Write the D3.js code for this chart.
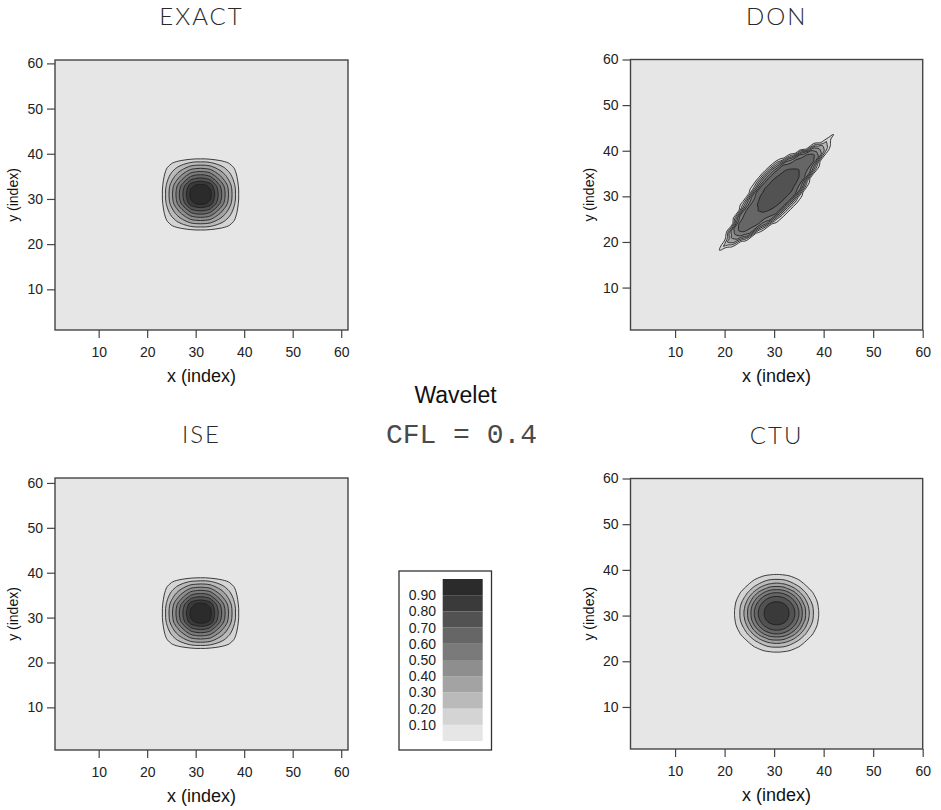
<!DOCTYPE html>
<html>
<head>
<meta charset="utf-8">
<script src="https://cdn.jsdelivr.net/npm/d3@7"></script>
<style>
    body { margin: 0; background: #fff; }
    svg { display: block; font-family: Arial, "Liberation Sans", Helvetica, sans-serif; }
    .c-title { font-family: Lato, "Open Sans", sans-serif; font-weight: 300; font-size: 24px; letter-spacing: 2px; fill: #2a2a2a; }
    .c-axis-label { font-size: 18px; fill: #111; }
    .c-axis text { font-size: 14px; fill: #222; font-family: Arial, "Liberation Sans", sans-serif; }
    .c-axis line { stroke: #444; stroke-width: 1.2; }
    .c-legend-label { font-size: 14px; fill: #222; }
</style>
</head>
<body>
<svg id="c-chart" width="941" height="810"></svg>
<script>
// contour levels and legend labels
var levels = [0.1, 0.2, 0.3, 0.4, 0.5, 0.6, 0.7, 0.8, 0.9];
var legendLabels = ["0.10", "0.20", "0.30", "0.40", "0.50", "0.60", "0.70", "0.80", "0.90"];
var axisTicks = [10, 20, 30, 40, 50, 60];
var panelNames = ["EXACT", "DON", "ISE", "CTU"];

// EXACT: rows from y = 21 (bottom) to y = 41, columns x = 21 .. 41
var exactValues = [
    [0,0,0,0,0,0,0,0,0,0,0,0,0,0,0,0,0,0,0,0,0],
    [0,0,0,0,0.01,0.01,0.01,0.02,0.02,0.02,0.02,0.02,0.02,0.02,0.01,0.01,0.01,0,0,0,0],
    [0,0,0.01,0.02,0.03,0.04,0.05,0.06,0.07,0.08,0.08,0.08,0.07,0.06,0.05,0.04,0.03,0.02,0.01,0,0],
    [0,0,0.02,0.05,0.09,0.12,0.15,0.18,0.21,0.23,0.23,0.23,0.21,0.18,0.15,0.12,0.09,0.05,0.02,0,0],
    [0,0.01,0.03,0.09,0.14,0.19,0.24,0.29,0.34,0.36,0.37,0.36,0.34,0.29,0.24,0.19,0.14,0.09,0.03,0.01,0],
    [0,0.01,0.04,0.12,0.19,0.26,0.33,0.40,0.47,0.50,0.51,0.50,0.47,0.40,0.33,0.26,0.19,0.12,0.04,0.01,0],
    [0,0.01,0.05,0.15,0.24,0.33,0.42,0.51,0.60,0.64,0.65,0.64,0.60,0.51,0.42,0.33,0.24,0.15,0.05,0.01,0],
    [0,0.02,0.06,0.18,0.29,0.40,0.51,0.62,0.73,0.77,0.79,0.77,0.73,0.62,0.51,0.40,0.29,0.18,0.06,0.02,0],
    [0,0.02,0.07,0.21,0.34,0.47,0.60,0.73,0.86,0.91,0.93,0.91,0.86,0.73,0.60,0.47,0.34,0.21,0.07,0.02,0],
    [0,0.02,0.08,0.23,0.36,0.50,0.64,0.77,0.91,0.96,0.98,0.96,0.91,0.77,0.64,0.50,0.36,0.23,0.08,0.02,0],
    [0,0.02,0.08,0.23,0.37,0.51,0.65,0.79,0.93,0.98,1.00,0.98,0.93,0.79,0.65,0.51,0.37,0.23,0.08,0.02,0],
    [0,0.02,0.08,0.23,0.36,0.50,0.64,0.77,0.91,0.96,0.98,0.96,0.91,0.77,0.64,0.50,0.36,0.23,0.08,0.02,0],
    [0,0.02,0.07,0.21,0.34,0.47,0.60,0.73,0.86,0.91,0.93,0.91,0.86,0.73,0.60,0.47,0.34,0.21,0.07,0.02,0],
    [0,0.02,0.06,0.18,0.29,0.40,0.51,0.62,0.73,0.77,0.79,0.77,0.73,0.62,0.51,0.40,0.29,0.18,0.06,0.02,0],
    [0,0.01,0.05,0.15,0.24,0.33,0.42,0.51,0.60,0.64,0.65,0.64,0.60,0.51,0.42,0.33,0.24,0.15,0.05,0.01,0],
    [0,0.01,0.04,0.12,0.19,0.26,0.33,0.40,0.47,0.50,0.51,0.50,0.47,0.40,0.33,0.26,0.19,0.12,0.04,0.01,0],
    [0,0.01,0.03,0.09,0.14,0.19,0.24,0.29,0.34,0.36,0.37,0.36,0.34,0.29,0.24,0.19,0.14,0.09,0.03,0.01,0],
    [0,0,0.02,0.05,0.09,0.12,0.15,0.18,0.21,0.23,0.23,0.23,0.21,0.18,0.15,0.12,0.09,0.05,0.02,0,0],
    [0,0,0.01,0.02,0.03,0.04,0.05,0.06,0.07,0.08,0.08,0.08,0.07,0.06,0.05,0.04,0.03,0.02,0.01,0,0],
    [0,0,0,0,0.01,0.01,0.01,0.02,0.02,0.02,0.02,0.02,0.02,0.02,0.01,0.01,0.01,0,0,0,0],
    [0,0,0,0,0,0,0,0,0,0,0,0,0,0,0,0,0,0,0,0,0]
];

// ISE: same window as EXACT
var iseValues = [
    [0,0,0,0,0,0,0,0,0,0,0,0,0,0,0,0,0,0,0,0,0],
    [0,0,0,0,0.01,0.01,0.01,0.02,0.02,0.02,0.02,0.02,0.02,0.02,0.01,0.01,0.01,0,0,0,0],
    [0,0,0.01,0.02,0.03,0.04,0.05,0.06,0.07,0.08,0.08,0.08,0.07,0.06,0.05,0.04,0.03,0.02,0.01,0,0],
    [0,0,0.02,0.05,0.09,0.12,0.15,0.18,0.21,0.23,0.23,0.23,0.21,0.18,0.15,0.12,0.09,0.05,0.02,0,0],
    [0,0.01,0.03,0.09,0.14,0.19,0.24,0.29,0.34,0.36,0.37,0.36,0.34,0.29,0.24,0.19,0.14,0.09,0.03,0.01,0],
    [0,0.01,0.04,0.12,0.19,0.26,0.33,0.40,0.47,0.50,0.51,0.50,0.47,0.40,0.33,0.26,0.19,0.12,0.04,0.01,0],
    [0,0.01,0.05,0.15,0.24,0.33,0.42,0.51,0.60,0.64,0.65,0.64,0.60,0.51,0.42,0.33,0.24,0.15,0.05,0.01,0],
    [0,0.02,0.06,0.18,0.29,0.40,0.51,0.62,0.73,0.77,0.79,0.78,0.73,0.62,0.51,0.40,0.29,0.18,0.06,0.02,0],
    [0,0.02,0.07,0.21,0.34,0.47,0.60,0.73,0.86,0.91,0.94,0.92,0.87,0.73,0.60,0.47,0.34,0.21,0.07,0.02,0],
    [0,0.02,0.08,0.23,0.36,0.50,0.64,0.77,0.91,0.96,0.99,0.98,0.92,0.77,0.64,0.50,0.36,0.23,0.08,0.02,0],
    [0,0.02,0.08,0.23,0.37,0.51,0.65,0.79,0.92,0.97,1.00,0.99,0.93,0.79,0.65,0.51,0.37,0.23,0.08,0.02,0],
    [0,0.02,0.08,0.23,0.36,0.50,0.64,0.77,0.90,0.95,0.97,0.96,0.91,0.77,0.64,0.50,0.36,0.23,0.08,0.02,0],
    [0,0.02,0.07,0.21,0.34,0.47,0.60,0.73,0.86,0.91,0.93,0.91,0.86,0.73,0.60,0.47,0.34,0.21,0.07,0.02,0],
    [0,0.02,0.06,0.18,0.29,0.40,0.51,0.62,0.73,0.77,0.79,0.77,0.73,0.62,0.51,0.40,0.29,0.18,0.06,0.02,0],
    [0,0.01,0.05,0.15,0.24,0.33,0.42,0.51,0.60,0.64,0.65,0.64,0.60,0.51,0.42,0.33,0.24,0.15,0.05,0.01,0],
    [0,0.01,0.04,0.12,0.19,0.26,0.33,0.40,0.47,0.50,0.51,0.50,0.47,0.40,0.33,0.26,0.19,0.12,0.04,0.01,0],
    [0,0.01,0.03,0.09,0.14,0.19,0.24,0.29,0.34,0.36,0.37,0.36,0.34,0.29,0.24,0.19,0.14,0.09,0.03,0.01,0],
    [0,0,0.02,0.05,0.09,0.12,0.15,0.18,0.21,0.22,0.23,0.23,0.21,0.18,0.15,0.12,0.09,0.05,0.02,0,0],
    [0,0,0.01,0.02,0.03,0.04,0.05,0.06,0.07,0.08,0.08,0.08,0.07,0.06,0.05,0.04,0.03,0.02,0.01,0,0],
    [0,0,0,0,0.01,0.01,0.01,0.02,0.02,0.02,0.02,0.02,0.02,0.02,0.01,0.01,0.01,0,0,0,0],
    [0,0,0,0,0,0,0,0,0,0,0,0,0,0,0,0,0,0,0,0,0]
];

// CTU: rows from y = 20 to y = 41, columns x = 20 .. 41
var ctuValues = [
    [0,0,0,0,0,0,0,0,0,0.01,0.01,0.01,0.01,0,0,0,0,0,0,0,0,0],
    [0,0,0,0,0,0,0.01,0.02,0.03,0.04,0.04,0.04,0.04,0.03,0.02,0.01,0,0,0,0,0,0],
    [0,0,0,0,0.01,0.02,0.04,0.06,0.08,0.09,0.10,0.10,0.09,0.08,0.06,0.04,0.02,0.01,0,0,0,0],
    [0,0,0,0.01,0.02,0.05,0.09,0.12,0.15,0.18,0.19,0.19,0.18,0.15,0.12,0.09,0.05,0.02,0.01,0,0,0],
    [0,0,0.01,0.02,0.06,0.10,0.15,0.20,0.25,0.29,0.31,0.31,0.29,0.25,0.20,0.15,0.10,0.06,0.02,0.01,0,0],
    [0,0,0.02,0.05,0.10,0.16,0.23,0.31,0.37,0.43,0.45,0.45,0.43,0.37,0.31,0.23,0.16,0.10,0.05,0.02,0,0],
    [0,0.01,0.04,0.09,0.15,0.23,0.33,0.43,0.51,0.57,0.60,0.60,0.57,0.51,0.43,0.33,0.23,0.15,0.09,0.04,0.01,0],
    [0,0.02,0.06,0.12,0.20,0.31,0.43,0.54,0.63,0.69,0.72,0.72,0.69,0.63,0.54,0.43,0.31,0.20,0.12,0.06,0.02,0],
    [0,0.03,0.08,0.15,0.25,0.37,0.51,0.63,0.72,0.78,0.80,0.80,0.78,0.72,0.63,0.51,0.37,0.25,0.15,0.08,0.03,0],
    [0.01,0.04,0.09,0.18,0.29,0.43,0.57,0.69,0.78,0.83,0.85,0.85,0.83,0.78,0.69,0.57,0.43,0.29,0.18,0.09,0.04,0.01],
    [0.01,0.04,0.10,0.19,0.31,0.45,0.60,0.72,0.80,0.85,0.87,0.87,0.85,0.80,0.72,0.60,0.45,0.31,0.19,0.10,0.04,0.01],
    [0.01,0.04,0.10,0.19,0.31,0.45,0.60,0.72,0.80,0.85,0.87,0.87,0.85,0.80,0.72,0.60,0.45,0.31,0.19,0.10,0.04,0.01],
    [0.01,0.04,0.09,0.18,0.29,0.43,0.57,0.69,0.78,0.83,0.85,0.85,0.83,0.78,0.69,0.57,0.43,0.29,0.18,0.09,0.04,0.01],
    [0,0.03,0.08,0.15,0.25,0.37,0.51,0.63,0.72,0.78,0.80,0.80,0.78,0.72,0.63,0.51,0.37,0.25,0.15,0.08,0.03,0],
    [0,0.02,0.06,0.12,0.20,0.31,0.43,0.54,0.63,0.69,0.72,0.72,0.69,0.63,0.54,0.43,0.31,0.20,0.12,0.06,0.02,0],
    [0,0.01,0.04,0.09,0.15,0.23,0.33,0.43,0.51,0.57,0.60,0.60,0.57,0.51,0.43,0.33,0.23,0.15,0.09,0.04,0.01,0],
    [0,0,0.02,0.05,0.10,0.16,0.23,0.31,0.37,0.43,0.45,0.45,0.43,0.37,0.31,0.23,0.16,0.10,0.05,0.02,0,0],
    [0,0,0.01,0.02,0.06,0.10,0.15,0.20,0.25,0.29,0.31,0.31,0.29,0.25,0.20,0.15,0.10,0.06,0.02,0.01,0,0],
    [0,0,0,0.01,0.02,0.05,0.09,0.12,0.15,0.18,0.19,0.19,0.18,0.15,0.12,0.09,0.05,0.02,0.01,0,0,0],
    [0,0,0,0,0.01,0.02,0.04,0.06,0.08,0.09,0.10,0.10,0.09,0.08,0.06,0.04,0.02,0.01,0,0,0,0],
    [0,0,0,0,0,0,0.01,0.02,0.03,0.04,0.04,0.04,0.04,0.03,0.02,0.01,0,0,0,0,0,0],
    [0,0,0,0,0,0,0,0,0,0.01,0.01,0.01,0.01,0,0,0,0,0,0,0,0,0]
];

// DON: sampled along the blob's own axis, u = -18 .. 18 (columns), v = -5 .. 5 (rows)
var donValues = [
    [0,0,0,0,0,0,0,0,0,0,0,0,0,0,0,0,0,0,0,0,0,0,0,0,0,0,0,0,0,0,0,0,0,0,0,0,0],
    [0,0,0,0,0,0,0,0,0,0,0,0.01,0.07,0.17,0.21,0.25,0.25,0.26,0.26,0.26,0.20,0.14,0.05,0,0,0,0,0,0,0,0,0,0,0,0,0,0],
    [0,0,0,0,0,0,0,0,0.05,0.13,0.25,0.37,0.47,0.55,0.59,0.62,0.62,0.63,0.63,0.63,0.62,0.57,0.49,0.35,0.19,0.06,0,0,0,0,0,0,0,0,0,0,0],
    [0,0,0,0,0,0.06,0.24,0.43,0.53,0.56,0.59,0.60,0.61,0.64,0.67,0.69,0.70,0.71,0.71,0.71,0.71,0.69,0.67,0.65,0.61,0.56,0.48,0.36,0.22,0.08,0.01,0,0,0,0,0,0],
    [0,0,0,0.15,0.30,0.40,0.50,0.59,0.62,0.64,0.65,0.67,0.67,0.70,0.73,0.75,0.76,0.77,0.77,0.77,0.76,0.75,0.74,0.72,0.69,0.65,0.64,0.62,0.60,0.55,0.44,0.32,0.22,0.11,0,0,0],
    [0,0.12,0.20,0.28,0.36,0.45,0.55,0.63,0.66,0.67,0.68,0.69,0.69,0.71,0.74,0.76,0.77,0.78,0.78,0.78,0.78,0.77,0.76,0.75,0.72,0.69,0.68,0.67,0.66,0.62,0.50,0.38,0.28,0.20,0.14,0.11,0],
    [0,0,0,0,0.12,0.35,0.48,0.56,0.61,0.63,0.65,0.66,0.67,0.69,0.72,0.74,0.76,0.77,0.77,0.77,0.77,0.76,0.75,0.74,0.70,0.67,0.65,0.63,0.61,0.55,0.43,0.26,0.04,0,0,0,0],
    [0,0,0,0,0,0,0,0.08,0.32,0.49,0.56,0.59,0.60,0.63,0.66,0.69,0.70,0.72,0.72,0.72,0.72,0.71,0.70,0.69,0.65,0.61,0.59,0.54,0.38,0.08,0,0,0,0,0,0,0],
    [0,0,0,0,0,0,0,0,0,0.01,0.09,0.23,0.32,0.42,0.51,0.59,0.62,0.65,0.65,0.66,0.66,0.65,0.63,0.62,0.55,0.44,0.25,0.06,0,0,0,0,0,0,0,0,0],
    [0,0,0,0,0,0,0,0,0,0,0,0,0,0.03,0.09,0.18,0.25,0.34,0.38,0.41,0.41,0.41,0.35,0.29,0.15,0.05,0,0,0,0,0,0,0,0,0,0,0],
    [0,0,0,0,0,0,0,0,0,0,0,0,0,0,0,0,0,0.03,0.05,0.07,0.07,0.06,0.04,0.01,0,0,0,0,0,0,0,0,0,0,0,0,0]
];

// grid centres (x, y in index units) and axis angle in degrees
var exactCentre = [31, 31], iseCentre = [31, 31], ctuCentre = [30.5, 30.5], donCentre = [30.5, 30.9];
var donAngle = 47.8;

// band fills: below 0.1, then one per level
var bandColors = ["#e6e6e6", "#d4d4d4", "#bababa", "#a3a3a3", "#8e8e8e", "#7a7a7a", "#666666", "#525252", "#3a3a3a", "#2b2b2b"];

( function(d3) {
    var svg = d3.select("#c-chart");

    var fields = {
        EXACT: { values: exactValues, centre: exactCentre, angle: 0 },
        DON: { values: donValues, centre: donCentre, angle: donAngle },
        ISE: { values: iseValues, centre: iseCentre, angle: 0 },
        CTU: { values: ctuValues, centre: ctuCentre, angle: 0 }
    };

    // panel frames in pixels
    var panels = [
        { box: { left: 55, right: 348, top: 60, bottom: 330 }, xDomain: [1, 61.4], yDomain: [1, 60.75] },
        { box: { left: 630.5, right: 922.7, top: 59.5, bottom: 330 }, xDomain: [1, 60], yDomain: [0.7, 60] },
        { box: { left: 55, right: 348, top: 478, bottom: 750 }, xDomain: [1, 61.4], yDomain: [0.5, 61.1] },
        { box: { left: 630.5, right: 922.7, top: 478.5, bottom: 749 }, xDomain: [1, 60], yDomain: [0.8, 60] }
    ];

    var ring = d3.line().curve(d3.curveCatmullRomClosed.alpha(0.5));

    panels.forEach(function(p, idx) {
        var name = panelNames[idx],
            field = fields[name],
            b = p.box;

        var x = d3.scaleLinear().domain(p.xDomain).range([b.left, b.right]),
            y = d3.scaleLinear().domain(p.yDomain).range([b.bottom, b.top]);

        var clipId = "c-clip-" + idx;
        svg.append("clipPath").attr("id", clipId)
            .append("rect")
            .attr("x", b.left).attr("y", b.top)
            .attr("width", b.right - b.left).attr("height", b.bottom - b.top);

        var plot = svg.append("g").attr("clip-path", "url(#" + clipId + ")");

        plot.append("rect")
            .attr("x", b.left).attr("y", b.top)
            .attr("width", b.right - b.left).attr("height", b.bottom - b.top)
            .attr("fill", bandColors[0]);

        var rows = field.values,
            m = rows.length,
            n = rows[0].length;

        var contours = d3.contours().size([n, m]).thresholds(levels)(d3.merge(rows));

        var rad = field.angle * Math.PI / 180,
            ca = Math.cos(rad),
            sa = Math.sin(rad);

        // grid coords -> index coords -> pixels
        function toPixel(pt) {
            var u = pt[0] - 0.5 - (n - 1) / 2,
                v = pt[1] - 0.5 - (m - 1) / 2;
            return [x(field.centre[0] + u * ca - v * sa), y(field.centre[1] + u * sa + v * ca)];
        }

        plot.selectAll("path.c-band")
            .data(contours)
            .join("path")
            .attr("class", "c-band")
            .attr("d", function(c) {
                var d = c.coordinates.map(function(poly) {
                    return poly.map(function(r) {
                        return ring(r.slice(0, -1).map(toPixel));
                    }).join("");
                }).join("");
                return d || null;
            })
            .attr("fill", function(c, i) { return bandColors[i + 1]; })
            .attr("fill-rule", "evenodd")
            .attr("stroke", "#1c1c1c")
            .attr("stroke-width", 0.85);

        // axes
        svg.append("g")
            .attr("class", "c-axis")
            .attr("transform", "translate(0," + b.bottom + ")")
            .call(d3.axisBottom(x).tickValues(axisTicks).tickSize(8).tickPadding(9))
            .call(function(g) { g.select(".domain").remove(); });

        svg.append("g")
            .attr("class", "c-axis")
            .attr("transform", "translate(" + b.left + ",0)")
            .call(d3.axisLeft(y).tickValues(axisTicks).tickSize(8).tickPadding(4))
            .call(function(g) { g.select(".domain").remove(); });

        svg.append("rect")
            .attr("x", b.left).attr("y", b.top)
            .attr("width", b.right - b.left).attr("height", b.bottom - b.top)
            .attr("fill", "none")
            .attr("stroke", "#444")
            .attr("stroke-width", 1.4);

        // labels
        var cx = (b.left + b.right) / 2,
            cy = (b.top + b.bottom) / 2;

        svg.append("text")
            .attr("class", "c-title")
            .attr("x", cx).attr("y", b.top - 35)
            .attr("text-anchor", "middle")
            .text(name);

        svg.append("text")
            .attr("class", "c-axis-label")
            .attr("x", cx).attr("y", b.bottom + 52)
            .attr("text-anchor", "middle")
            .text("x (index)");

        svg.append("text")
            .attr("class", "c-axis-label")
            .attr("transform", "translate(" + (b.left - 37) + "," + cy + ") rotate(-90)")
            .attr("text-anchor", "middle")
            .style("font-size", "14px")
            .text("y (index)");
    });

    // centre texts
    svg.append("text")
        .attr("x", 455.5).attr("y", 403)
        .attr("text-anchor", "middle")
        .style("font-size", "23px")
        .style("fill", "#111")
        .text("Wavelet");

    svg.append("text")
        .attr("x", 461.5).attr("y", 443)
        .attr("text-anchor", "middle")
        .style("font-family", "'Courier New', Courier, 'Liberation Mono', monospace")
        .style("font-size", "28px")
        .style("fill", "#4a4a4a")
        .text("CFL = 0.4");

    // legend
    var legend = svg.append("g");
    var ly = d3.scaleLinear().domain([0, 1]).range([741, 579]);

    legend.append("rect")
        .attr("x", 399).attr("y", 571)
        .attr("width", 92.5).attr("height", 179)
        .attr("fill", "#fff")
        .attr("stroke", "#333")
        .attr("stroke-width", 1.3);

    var bandStarts = [0].concat(levels);
    legend.selectAll("rect.c-swatch")
        .data(bandStarts)
        .join("rect")
        .attr("class", "c-swatch")
        .attr("x", 442.7)
        .attr("width", 40)
        .attr("y", function(d) { return ly(d + 0.1); })
        .attr("height", function(d) { return ly(d) - ly(d + 0.1); })
        .attr("fill", function(d, i) { return bandColors[i]; });

    legend.selectAll("text.c-legend-label")
        .data(levels)
        .join("text")
        .attr("class", "c-legend-label")
        .attr("x", 436)
        .attr("y", function(d) { return ly(d); })
        .attr("dy", "0.35em")
        .attr("text-anchor", "end")
        .text(function(d, i) { return legendLabels[i]; });

})(d3);
</script>
</body>
</html>
